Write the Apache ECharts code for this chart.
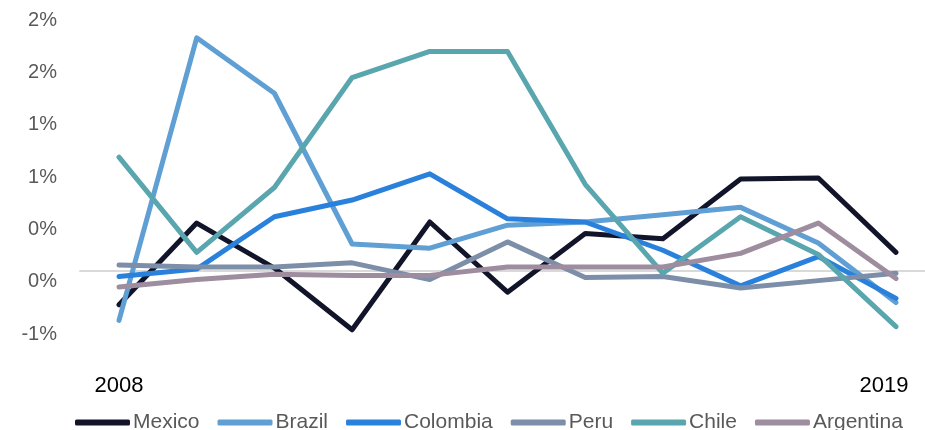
<!DOCTYPE html>
<html>
<head>
<meta charset="utf-8">
<script src="https://cdn.jsdelivr.net/npm/echarts@6/dist/echarts.min.js"></script>
<style>
html,body{margin:0;padding:0;background:#fff;}
#chart{width:925px;height:430px;}
</style>
</head>
<body>
<div id="chart"></div>
<script>
var categories = ['2008','2009','2010','2011','2012','2013','2014','2015','2016','2017','2019'];
var tickLabels = ['2008','','','','','','','','','','2019'];
var mexico    = [-0.32, 0.46, 0.03, -0.56, 0.47, -0.20, 0.36, 0.31, 0.88, 0.89, 0.18];
var brazil    = [-0.47, 2.23, 1.70, 0.26, 0.22, 0.44, 0.47, 0.54, 0.61, 0.27, -0.30];
var colombia  = [-0.05, 0.02, 0.52, 0.68, 0.93, 0.50, 0.47, 0.20, -0.14, 0.14, -0.26];
var peru      = [0.06, 0.04, 0.04, 0.08, -0.08, 0.28, -0.06, -0.05, -0.16, -0.09, -0.02];
var chile     = [1.09, 0.18, 0.80, 1.85, 2.10, 2.10, 0.83, -0.02, 0.52, 0.16, -0.53];
var argentina = [-0.15, -0.08, -0.03, -0.04, -0.04, 0.04, 0.04, 0.04, 0.17, 0.46, -0.07];
var seriesNames = ['Mexico','Brazil','Colombia','Peru','Chile','Argentina'];
var seriesData = [mexico, brazil, colombia, peru, chile, argentina];
var colors = ['#12152a','#5f9fd4','#2a81dc','#7d8ea9','#59a6ae','#9e8d9f'];

var FONT = "'Liberation Sans',sans-serif";
var chart = echarts.init(document.getElementById('chart'), null, {renderer:'canvas'});
var series = seriesNames.map(function(n, i){
  return {
    name: n, type: 'line', data: seriesData[i], symbol: 'none',
    xAxisIndex: 0, yAxisIndex: 0,
    lineStyle: {width: 5, color: colors[i], cap: 'round', join: 'round'},
    itemStyle: {color: colors[i]},
    emphasis: {disabled: true}
  };
});
var labelData = tickLabels.map(function(t, i){
  return i === tickLabels.length - 1 ? {value: t, textStyle: {padding: [0, 24, 0, 0]}} : t;
});
chart.setOption({
  animation: false,
  color: colors,
  grid: [
    {left: 119, top: 20, right: 29, height: 314, containLabel: false},
    {left: 80, top: 20, right: 0, height: 314, containLabel: false}
  ],
  xAxis: [{
    gridIndex: 0, type: 'category', data: categories, boundaryGap: false,
    axisLine: {show: false}, axisTick: {show: false}, axisLabel: {show: false}, splitLine: {show: false}
  },{
    gridIndex: 0, type: 'category', data: labelData, boundaryGap: false, position: 'bottom',
    axisLine: {show: false}, axisTick: {show: false}, splitLine: {show: false},
    axisLabel: {show: true, interval: 0, margin: 41, color: '#000', fontSize: 22, fontFamily: FONT}
  },{
    gridIndex: 1, type: 'value', min: 0, max: 1,
    axisLine: {show: true, onZero: true, lineStyle: {color: '#d9d9d9', width: 2}},
    axisTick: {show: false}, axisLabel: {show: false}, splitLine: {show: false}
  }],
  yAxis: [{
    gridIndex: 0, type: 'value', min: -0.6, max: 2.4, interval: 0.5,
    axisLine: {show: false}, axisTick: {show: false}, splitLine: {show: false},
    axisLabel: {
      margin: 62, color: '#595959', fontSize: 20, fontFamily: FONT,
      formatter: function(v){ var r = Math.round(v); return (r === 0 ? '0' : String(r)) + '%'; }
    }
  },{
    gridIndex: 1, type: 'value', min: -0.6, max: 2.4, interval: 0.5, show: false
  }],
  legend: {
    data: seriesNames, left: 70, top: 407, itemWidth: 55, itemHeight: 6, itemGap: 18,
    icon: 'roundRect',
    textStyle: {color: '#595959', fontSize: 21, fontFamily: FONT, padding: [0,0,0,-2]}
  },
  series: series
});
</script>
</body>
</html>
